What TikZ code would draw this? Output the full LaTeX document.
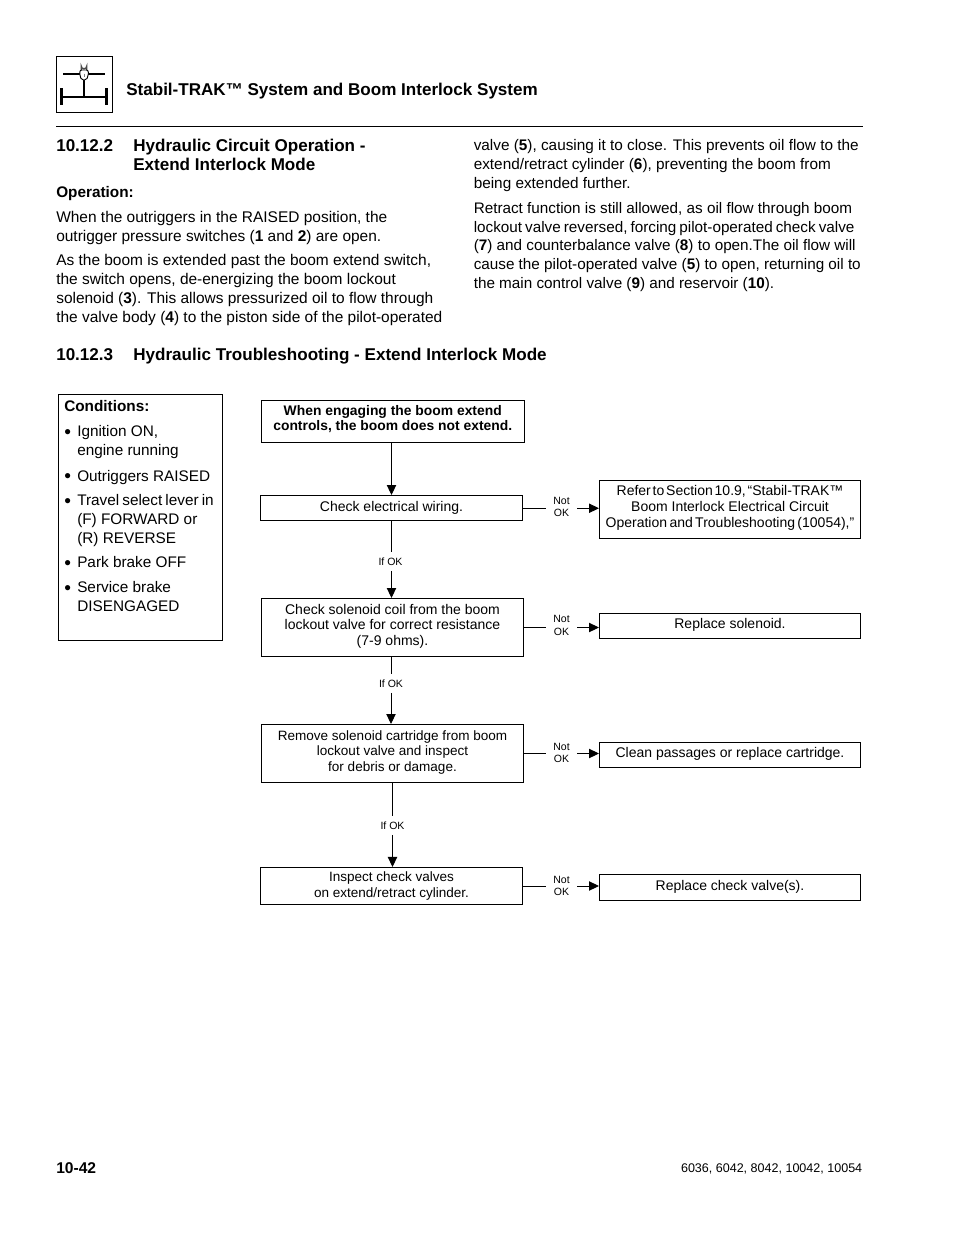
\documentclass[tikz,border=0pt]{standalone}
\usepackage{fontspec}
\setmainfont{Liberation Sans}
\usetikzlibrary{arrows.meta}
\newcommand{\tightwords}[2][.2em]{{\spaceskip=#1\relax #2}}
\newcommand{\bulmark}{\vphantom{I}\raisebox{-1.5pt}{\scalebox{1.25}{•}}}
\newcommand{\liftup}[1]{\rule[-#1]{0pt}{0pt}}
\tikzset{
	headtxt/.style={anchor=base west,inner sep=0pt,font=\fontsize{12.8}{14.2}\selectfont\bfseries},
	bodytxt/.style={anchor=north west,inner sep=0pt,align=left,font=\fontsize{11.5}{14.25}\selectfont},
	leftpara/.style={bodytxt,font=\fontsize{11.6}{14.25}\selectfont},
	boldtxt/.style={bodytxt,font=\fontsize{11.5}{14.25}\selectfont\bfseries},
	flowbox/.style={draw,line width=.75pt,inner sep=0pt,align=center,minimum width=196.9pt,font=\fontsize{10.5}{11.7}\selectfont},
	sidebox/.style={draw,line width=.75pt,inner sep=0pt,align=center,minimum width=195.75pt,font=\fontsize{10.5}{11.9}\selectfont},
	oktag/.style={inner sep=0pt,align=center,font=\fontsize{7.9}{9.5}\selectfont},
	flowline/.style={line width=.7pt},
	flowarrow/.style={line width=.7pt,-{Triangle[length=7.5pt,width=7pt]}}
}
\begin{document}
\begin{tikzpicture}[x=.75pt,y=-.75pt]
	\useasboundingbox (0,0) rectangle (954,1235);
	% page header
	\draw[line width=.9pt] (56.5,56.5) rectangle (112.5,112.5);
	\draw[line width=1.5pt] (63,73.7) -- (105,73.7);
	\draw[line width=1.5pt] (84,74) -- (84,96.7);
	\draw[line width=1.6pt] (62,96.7) -- (106,96.7);
	\draw[line width=2.3pt] (61.5,88) -- (61.5,104.5);
	\draw[line width=2.3pt] (106.5,88) -- (106.5,104.5);
	\draw[line width=1pt,black!70] (81.2,71) -- (81.2,66) arc (180:0:2.8) -- (86.8,71);
	\draw[line width=.7pt,fill=white,rounded corners=1.5pt] (79.8,70) -- (88.3,70) -- (88.3,76) -- (86,80.3) -- (82,80.3) -- (79.8,76) -- cycle;
	\draw[line width=.7pt,gray] (84,73.5) -- (84,76.5);
	\node[headtxt] (pagetitle) at (126,95) {Stabil-TRAK™ System and Boom Interlock System};
	\draw[line width=.75pt] (56,126.5) -- (863,126.5);
	% text columns
	\node[headtxt] (secnumA) at (56,151.5) {10.12.2};
	\node[headtxt,anchor=north west,align=left,font=\fontsize{12.8}{14.25}\selectfont\bfseries] (sechydA) at (133,139) {Hydraulic Circuit Operation -\\Extend Interlock Mode};
	\node[boldtxt] (opname) at (56,186) {Operation:};
	\node[leftpara] (paraA) at (56,211) {When the outriggers in the RAISED position, the\\outrigger pressure switches (\textbf{1} and \textbf{2}) are open.};
	\node[leftpara] (paraB) at (56,254) {As the boom is extended past the boom extend switch,\\the switch opens, de-energizing the boom lockout\\solenoid (\textbf{3}). This allows pressurized oil to flow through\\the valve body (\textbf{4}) to the piston side of the pilot-operated};
	\node[bodytxt] (paraC) at (473.5,139) {valve (\textbf{5}), causing it to close. This prevents oil flow to the\\extend/retract cylinder (\textbf{6}), preventing the boom from\\being extended further.};
	\node[bodytxt,font=\fontsize{11.45}{14.1}\selectfont] (paraD) at (473.5,202) {Retract function is still allowed, as oil flow through boom\\\tightwords{lockout valve reversed, forcing pilot-operated check valve}\\(\textbf{7}) and counterbalance valve (\textbf{8}) to open.The oil flow will\\cause the pilot-operated valve (\textbf{5}) to open, returning oil to\\the main control valve (\textbf{9}) and reservoir (\textbf{10}).};
	\node[headtxt] (secnumB) at (56,360) {10.12.3};
	\node[headtxt] (sechydB) at (133,360) {Hydraulic Troubleshooting - Extend Interlock Mode};
	% conditions box
	\draw[line width=.75pt] (58.5,394.5) rectangle (222.5,640.5);
	\node[boldtxt] (condname) at (64,400.5) {Conditions:};
	\node[bodytxt] (bulA) at (64,425.5) {\bulmark};
	\node[bodytxt] (condA) at (77,425.5) {Ignition ON,\\engine running};
	\node[bodytxt] (bulB) at (64,470) {\bulmark};
	\node[bodytxt] (condB) at (77,470) {Outriggers RAISED};
	\node[bodytxt] (bulC) at (64,494.5) {\bulmark};
	\node[bodytxt] (condC) at (77,494.5) {\tightwords{Travel select lever in}\\(F) FORWARD or\\(R) REVERSE};
	\node[bodytxt] (bulD) at (64,556.5) {\bulmark};
	\node[bodytxt] (condD) at (77,556.5) {Park brake OFF};
	\node[bodytxt] (bulE) at (64,581.5) {\bulmark};
	\node[bodytxt] (condE) at (77,581.5) {Service brake\\DISENGAGED};
	% flow boxes
	\node[flowbox,minimum height=31.5pt,font=\fontsize{10.4}{11.9}\selectfont\bfseries] (engage) at (392.75,421.25) {When engaging the boom extend\\controls, the boom does not extend.\liftup{5pt}};
	\node[flowbox,minimum height=19.1pt] (wiring) at (391.5,508.25) {Check electrical wiring.};
	\node[flowbox,minimum height=43.5pt] (coil) at (392.5,627.5) {Check solenoid coil from the boom\\lockout valve for correct resistance\\(7-9 ohms).\liftup{3.9pt}};
	\node[flowbox,minimum height=43.5pt,font=\fontsize{10.15}{11.7}\selectfont] (cartridge) at (392.5,753.5) {Remove solenoid cartridge from boom\\lockout valve and inspect\\for debris or damage.\liftup{3.7pt}};
	\node[flowbox,minimum height=27.8pt,font=\fontsize{10.15}{11.9}\selectfont] (checkvalve) at (391.5,886) {Inspect check valves\\on extend/retract cylinder.};
	\node[sidebox,minimum height=43.5pt] (refer) at (730,509.5) {\tightwords[.13em]{Refer to Section 10.9, “Stabil-TRAK™}\\Boom Interlock Electrical Circuit\\\tightwords[.17em]{Operation and Troubleshooting (10054),”}\liftup{4.6pt}};
	\node[sidebox,minimum height=18.75pt,text depth=3.5pt] (solenoid) at (730,626) {Replace solenoid.};
	\node[sidebox,minimum height=18.75pt,text depth=3.5pt] (passages) at (730,755) {Clean passages or replace cartridge.};
	\node[sidebox,minimum height=19.1pt,text depth=3.5pt] (replacecv) at (730,887.5) {Replace check valve(s).};
	% tags on the connectors
	\node[oktag,minimum height=13.5pt] (ifA) at (390.5,561.5) {If OK};
	\node[oktag,minimum height=13.5pt] (ifB) at (391,683.5) {If OK};
	\node[oktag,minimum height=13.5pt] (ifC) at (392.5,825.5) {If OK};
	\node[oktag,minimum width=23pt] (notA) at (561.5,507) {Not\\OK};
	\node[oktag,minimum width=23pt] (notB) at (561.5,625.5) {Not\\OK};
	\node[oktag,minimum width=23pt] (notC) at (561.5,753) {Not\\OK};
	\node[oktag,minimum width=23pt] (notD) at (561.5,886) {Not\\OK};
	% connectors
	\draw[flowarrow] (engage.south -| wiring) -- (wiring.north);
	\draw[flowline] (wiring.south) -- (wiring.south |- ifA.north);
	\draw[flowarrow] (wiring.south |- ifA.south) -- (wiring.south |- coil.north);
	\draw[flowline] (coil.south -| ifB) -- (ifB.north);
	\draw[flowarrow] (ifB.south) -- (ifB.south |- cartridge.north);
	\draw[flowline] (cartridge.south) -- (cartridge.south |- ifC.north);
	\draw[flowarrow] (cartridge.south |- ifC.south) -- (cartridge.south |- checkvalve.north);
	\draw[flowline] (wiring.east) -- (wiring.east -| notA.west);
	\draw[flowarrow] (wiring.east -| notA.east) -- (wiring.east -| refer.west);
	\draw[flowline] (coil.east) -- (coil.east -| notB.west);
	\draw[flowarrow] (coil.east -| notB.east) -- (coil.east -| solenoid.west);
	\draw[flowline] (cartridge.east) -- (cartridge.east -| notC.west);
	\draw[flowarrow] (cartridge.east -| notC.east) -- (cartridge.east -| passages.west);
	\draw[flowline] (checkvalve.east) -- (checkvalve.east -| notD.west);
	\draw[flowarrow] (checkvalve.east -| notD.east) -- (checkvalve.east -| replacecv.west);
	% page footer
	\node[headtxt,font=\fontsize{11.7}{14.2}\selectfont\bfseries] (pagenum) at (56,1173) {10-42};
	\node[anchor=base east,inner sep=0pt,font=\fontsize{9.4}{10}\selectfont] (models) at (862.5,1172) {6036, 6042, 8042, 10042, 10054};
\end{tikzpicture}
\end{document}
